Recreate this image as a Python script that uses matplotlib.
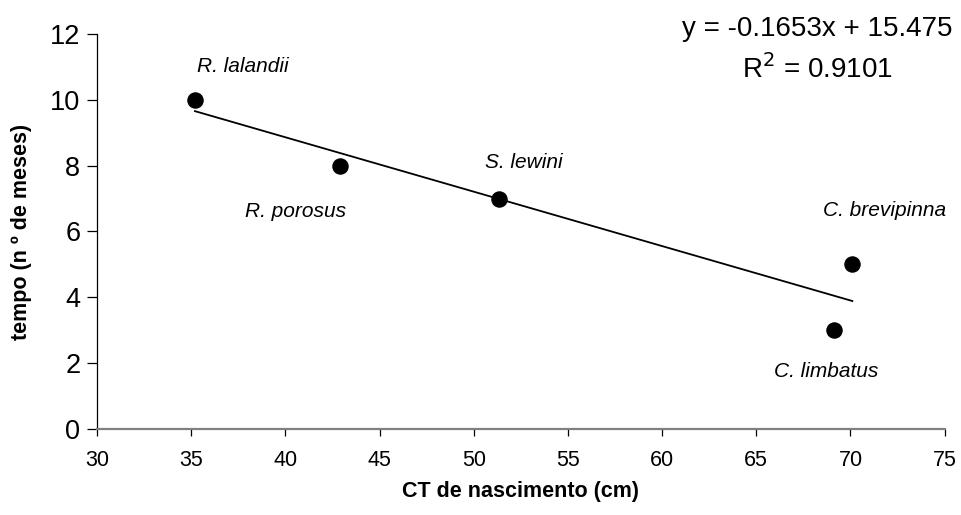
import matplotlib
matplotlib.use("Agg")
import matplotlib.pyplot as plt
import numpy as np

plt.rcParams["font.family"] = ["Liberation Sans", "DejaVu Sans"]

# data
species = ["R. lalandii", "R. porosus", "S. lewini", "C. limbatus", "C. brevipinna"]
ct_nasc = [35.2, 42.9, 51.35, 69.1, 70.1]
tempo = [10, 8, 7, 3, 5]
# label positions (data coords) for the species names
label_x = [37.75, 40.55, 52.65, 68.7, 71.8]
label_y = [11.0, 6.6, 8.1, 1.75, 6.63]

slope = -0.1653
intercept = 15.475
r2 = 0.9101

fig = plt.figure(figsize=(9.62, 5.15), dpi=100)
ax = fig.add_axes([0.1008, 0.167, 0.8812, 0.767])

ax.scatter(ct_nasc, tempo, s=118, color="black", zorder=3)

# linear trend line over the data range
xs = np.array([min(ct_nasc), max(ct_nasc)])
ax.plot(xs, slope * xs + intercept, color="black", linewidth=1.3)

for name, lx, ly in zip(species, label_x, label_y):
    ax.text(lx, ly, name, fontsize=15, style="italic", ha="center", va="center")

ax.text(1.009, 1.013, "y = -0.1653x + 15.475", transform=ax.transAxes,
        fontsize=20, ha="right", va="center")
ax.text(0.85, 0.91, "R$^2$ = %.4f" % r2, transform=ax.transAxes,
        fontsize=20, ha="center", va="center")

ax.set_xlim(30, 75)
ax.set_ylim(0, 12)
ax.set_xticks(np.arange(30, 76, 5))
ax.set_yticks(np.arange(0, 13, 2))

ax.spines["top"].set_visible(False)
ax.spines["right"].set_visible(False)
ax.spines["left"].set_linewidth(0.9)
ax.spines["bottom"].set_color("#808080")
ax.spines["bottom"].set_linewidth(1.6)

ax.tick_params(axis="y", direction="out", length=7, width=0.9, labelsize=19.5, pad=5)
ax.tick_params(axis="x", direction="out", length=5, width=0.9, labelsize=15.5, pad=10)

ax.set_xlabel("CT de nascimento (cm)", fontsize=15.5, fontweight="bold", labelpad=7)
ax.set_ylabel("tempo (n º de meses)", fontsize=15.5, fontweight="bold", labelpad=13)

fig.savefig("out.png", dpi=100)
